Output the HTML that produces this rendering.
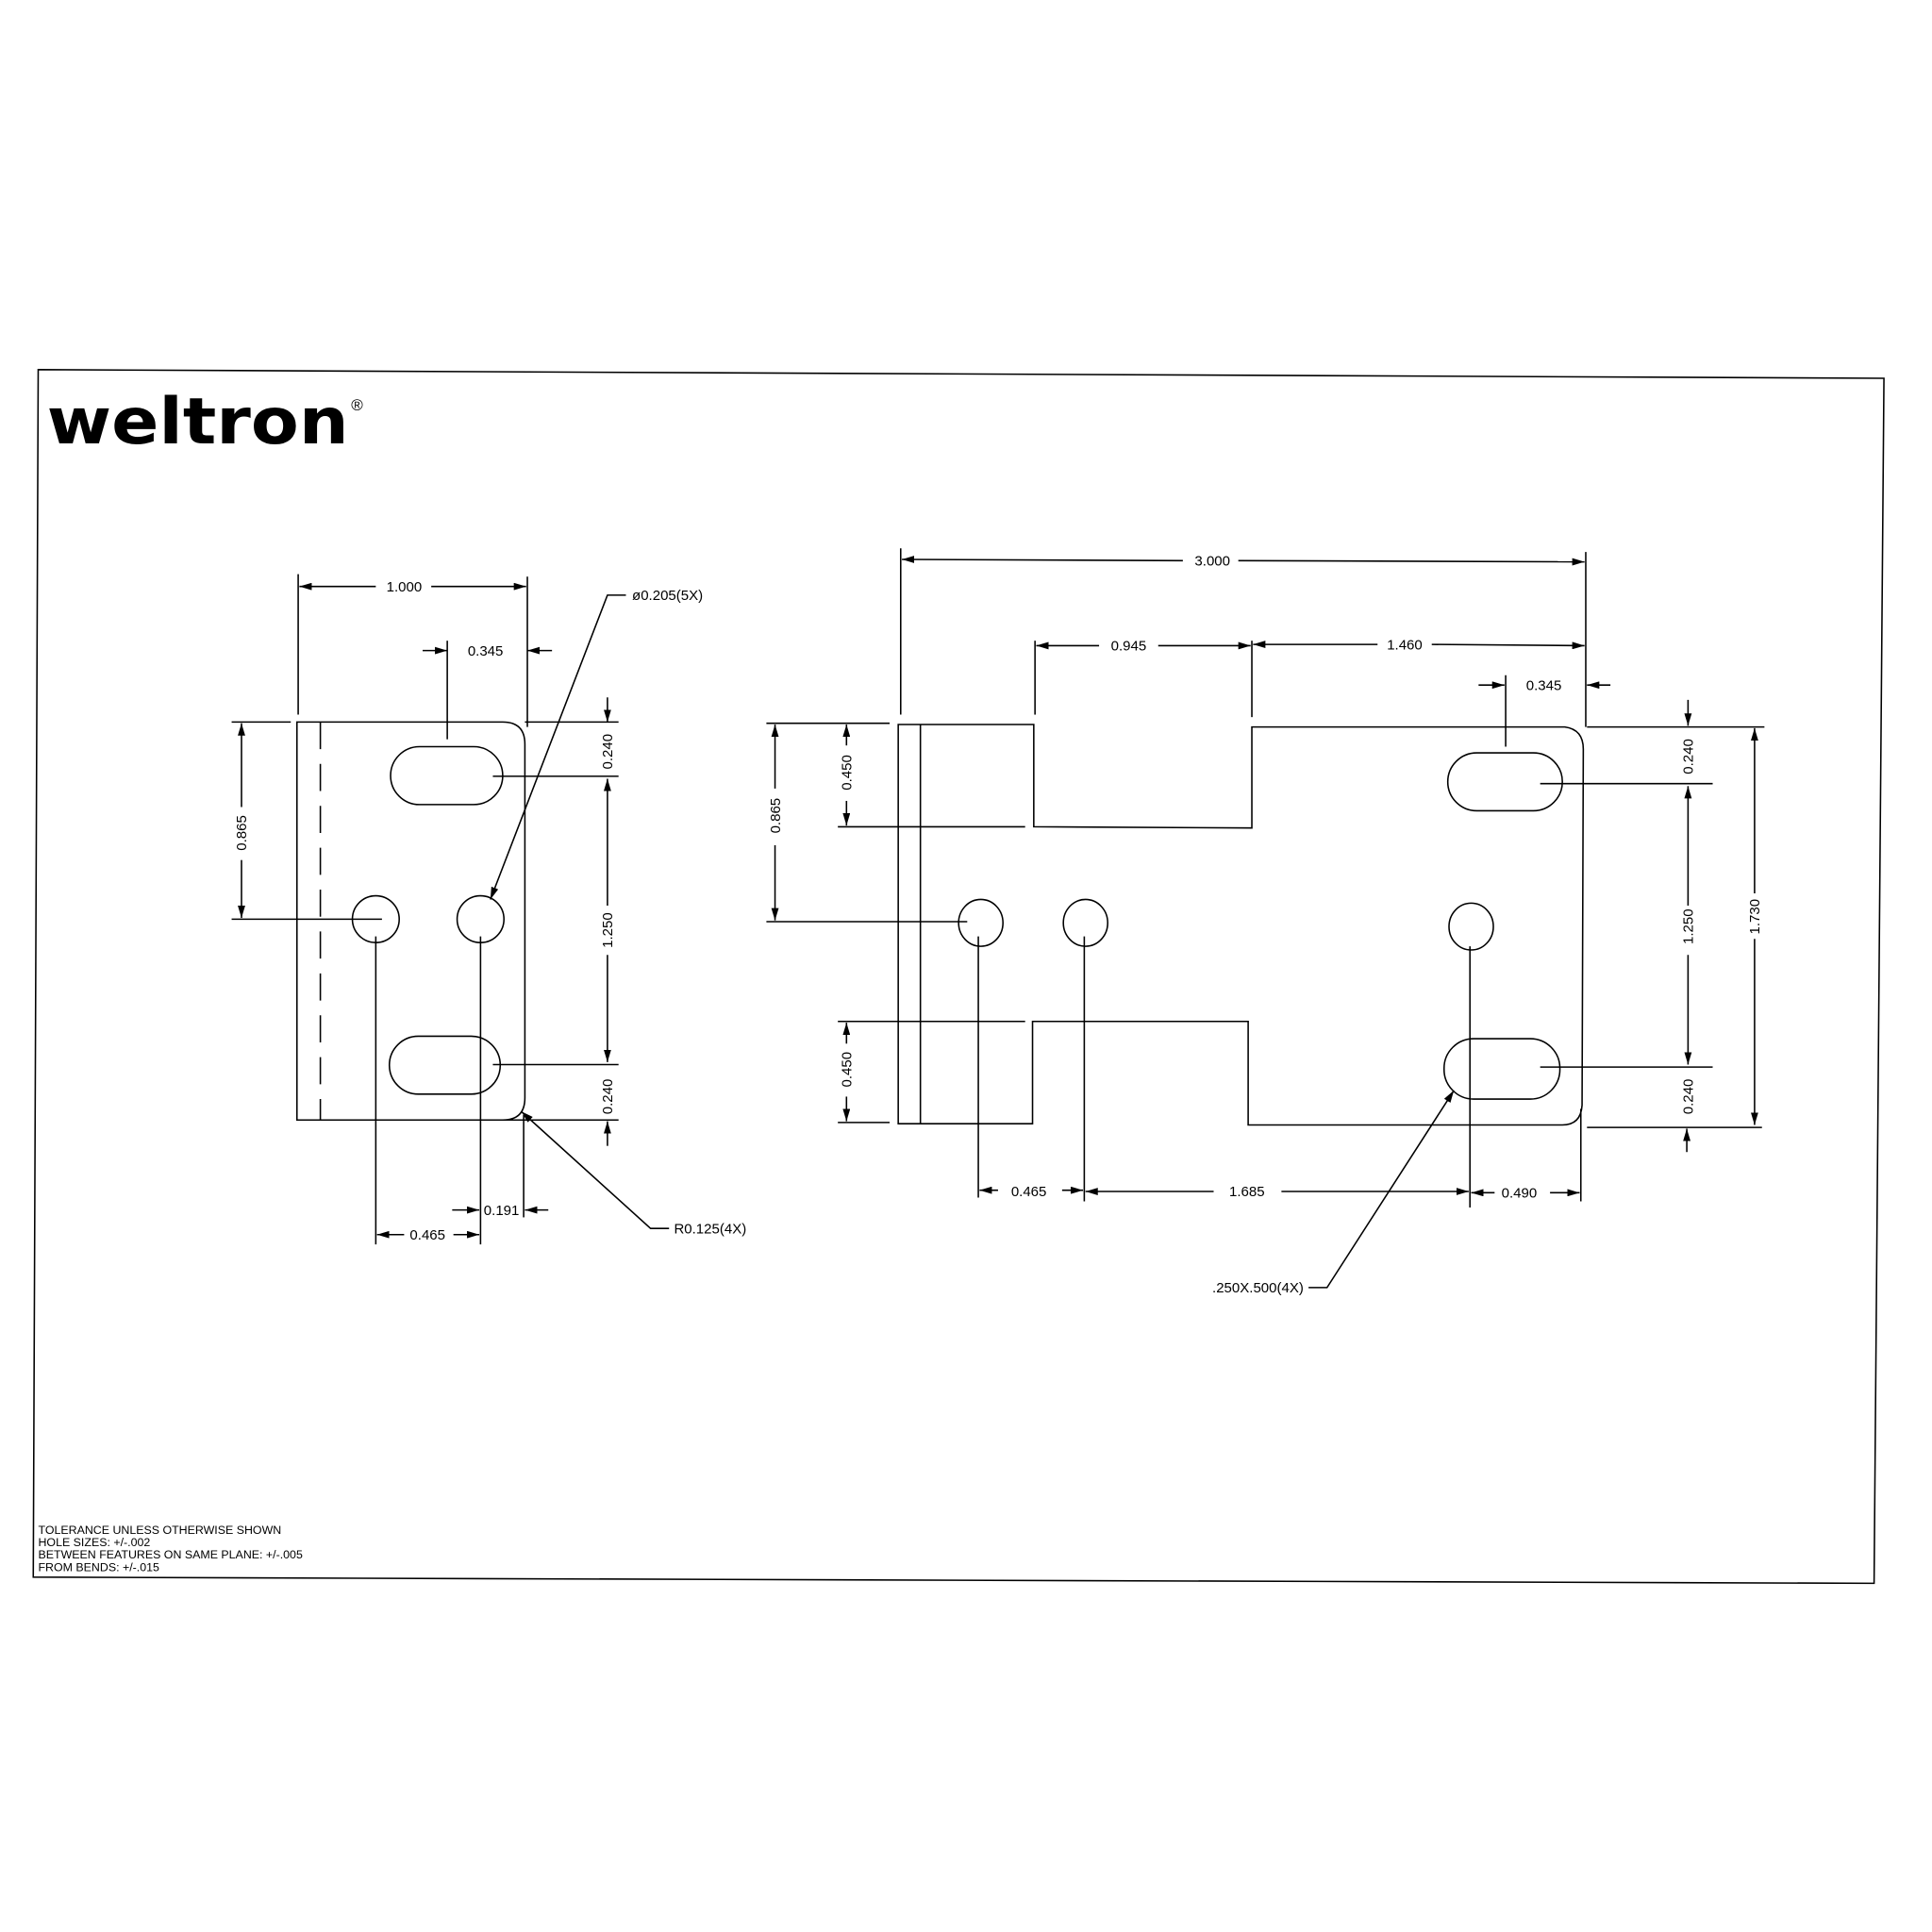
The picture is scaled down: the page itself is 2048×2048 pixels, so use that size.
<!DOCTYPE html>
<html><head><style>html,body{margin:0;padding:0;background:#fff}svg{display:block}</style></head>
<body>
<svg width="2048" height="2048" viewBox="0 0 1568 1568" xmlns="http://www.w3.org/2000/svg">
<defs>
<marker id="a" viewBox="0 0 10 6" refX="10" refY="3" markerWidth="10" markerHeight="6" markerUnits="userSpaceOnUse" orient="auto"><path d="M0,0 L10,3 L0,6 z" fill="#000"/></marker>
</defs>
<rect width="1568" height="1568" fill="#fff"/>
<g fill="none" stroke="#000" stroke-width="1.2">
<polygon points="31,300 1529,307 1521,1285 27,1280"/>
<path d="M241,586 L408,586 Q426,586 426,604 L426,891 Q426,909 408,909 L241,909 Z"/>
<line x1="260" y1="586" x2="260" y2="909" stroke-dasharray="22,12"/>
<rect x="317" y="606" width="91" height="47" rx="23.5"/>
<rect x="316" y="841" width="90" height="47" rx="23.5"/>
<circle cx="305" cy="746" r="19"/><circle cx="390" cy="746" r="19"/>
<line x1="242" y1="466" x2="242" y2="580"/><line x1="428" y1="468" x2="428" y2="590"/>
<line x1="305" y1="476" x2="243" y2="476" marker-end="url(#a)"/><line x1="350" y1="476" x2="427" y2="476" marker-end="url(#a)"/>
<line x1="363" y1="520" x2="363" y2="600"/>
<line x1="343" y1="528" x2="363" y2="528" marker-end="url(#a)"/><line x1="448" y1="528" x2="428" y2="528" marker-end="url(#a)"/>
<line x1="188" y1="586" x2="236" y2="586"/><line x1="188" y1="746" x2="310" y2="746"/>
<line x1="196" y1="655" x2="196" y2="587" marker-end="url(#a)"/><line x1="196" y1="698" x2="196" y2="745" marker-end="url(#a)"/>
<line x1="426" y1="586" x2="502" y2="586"/><line x1="400" y1="630" x2="502" y2="630"/>
<line x1="400" y1="864" x2="502" y2="864"/><line x1="410" y1="909" x2="502" y2="909"/>
<line x1="493" y1="566" x2="493" y2="586" marker-end="url(#a)"/>
<line x1="493" y1="735" x2="493" y2="632" marker-end="url(#a)"/><line x1="493" y1="775" x2="493" y2="862" marker-end="url(#a)"/>
<line x1="493" y1="930" x2="493" y2="910" marker-end="url(#a)"/>
<line x1="305" y1="760" x2="305" y2="1010"/><line x1="390" y1="760" x2="390" y2="1010"/><line x1="425" y1="905" x2="425" y2="988"/>
<line x1="328" y1="1002" x2="306" y2="1002" marker-end="url(#a)"/><line x1="368" y1="1002" x2="389" y2="1002" marker-end="url(#a)"/>
<line x1="367" y1="982" x2="389" y2="982" marker-end="url(#a)"/><line x1="445" y1="982" x2="426" y2="982" marker-end="url(#a)"/>
<polyline points="508,483 493,483 398,730" marker-end="url(#a)"/>
<polyline points="543,997 528,997 423,902" marker-end="url(#a)"/>
<path d="M729,588 L839,588 L839,671 L1016,672 L1016,590 L1270,590 Q1285,592 1285,608 L1284,897 Q1283,913 1268,913 L1013,913 L1013,829 L838,829 L838,912 L729,912 Z"/>
<line x1="747" y1="588" x2="747" y2="912"/>
<rect x="1175" y="611" width="93" height="47" rx="23.5"/>
<rect x="1172" y="843" width="94" height="49" rx="24"/>
<ellipse cx="796" cy="749" rx="18" ry="19"/><ellipse cx="881" cy="749" rx="18" ry="19"/><ellipse cx="1194" cy="752" rx="18" ry="19"/>
<line x1="622" y1="587" x2="722" y2="587"/><line x1="680" y1="671" x2="832" y2="671"/>
<line x1="680" y1="829" x2="832" y2="829"/><line x1="680" y1="911" x2="722" y2="911"/>
<line x1="622" y1="748" x2="785" y2="748"/>
<line x1="629" y1="640" x2="629" y2="588" marker-end="url(#a)"/><line x1="629" y1="686" x2="629" y2="747" marker-end="url(#a)"/>
<line x1="687" y1="605" x2="687" y2="588" marker-end="url(#a)"/><line x1="687" y1="650" x2="687" y2="670" marker-end="url(#a)"/>
<line x1="687" y1="847" x2="687" y2="830" marker-end="url(#a)"/><line x1="687" y1="890" x2="687" y2="910" marker-end="url(#a)"/>
<line x1="731" y1="445" x2="731" y2="580"/><line x1="1287" y1="448" x2="1287" y2="590"/>
<line x1="960" y1="455" x2="732" y2="454" marker-end="url(#a)"/><line x1="1005" y1="455" x2="1286" y2="456" marker-end="url(#a)"/>
<line x1="840" y1="520" x2="840" y2="580"/><line x1="1016" y1="520" x2="1016" y2="582"/>
<line x1="892" y1="524" x2="841" y2="524" marker-end="url(#a)"/><line x1="940" y1="524" x2="1015" y2="524" marker-end="url(#a)"/>
<line x1="1118" y1="523" x2="1017" y2="523" marker-end="url(#a)"/><line x1="1162" y1="523" x2="1286" y2="524" marker-end="url(#a)"/>
<line x1="1222" y1="548" x2="1222" y2="606"/>
<line x1="1200" y1="556" x2="1221" y2="556" marker-end="url(#a)"/><line x1="1307" y1="556" x2="1288" y2="556" marker-end="url(#a)"/>
<line x1="1288" y1="590" x2="1432" y2="590"/><line x1="1250" y1="636" x2="1390" y2="636"/>
<line x1="1250" y1="866" x2="1390" y2="866"/><line x1="1288" y1="915" x2="1430" y2="915"/>
<line x1="1370" y1="568" x2="1370" y2="589" marker-end="url(#a)"/>
<line x1="1370" y1="735" x2="1370" y2="638" marker-end="url(#a)"/><line x1="1370" y1="775" x2="1370" y2="864" marker-end="url(#a)"/>
<line x1="1369" y1="935" x2="1369" y2="916" marker-end="url(#a)"/>
<line x1="1424" y1="725" x2="1424" y2="591" marker-end="url(#a)"/><line x1="1424" y1="762" x2="1424" y2="913" marker-end="url(#a)"/>
<line x1="794" y1="760" x2="794" y2="972"/><line x1="880" y1="760" x2="880" y2="975"/>
<line x1="1193" y1="768" x2="1193" y2="980"/><line x1="1283" y1="900" x2="1283" y2="975"/>
<line x1="810" y1="966" x2="795" y2="966" marker-end="url(#a)"/><line x1="862" y1="966" x2="879" y2="966" marker-end="url(#a)"/>
<line x1="985" y1="967" x2="881" y2="967" marker-end="url(#a)"/><line x1="1040" y1="967" x2="1192" y2="967" marker-end="url(#a)"/>
<line x1="1213" y1="968" x2="1194" y2="968" marker-end="url(#a)"/><line x1="1258" y1="968" x2="1282" y2="968" marker-end="url(#a)"/>
<polyline points="1062,1045 1077,1045 1180,885" marker-end="url(#a)"/>
</g>
<g font-family="Liberation Sans, sans-serif" font-size="11.5" fill="#000">
<text x="328" y="480" text-anchor="middle">1.000</text>
<text x="394" y="532" text-anchor="middle">0.345</text>
<text x="513" y="487">ø0.205(5X)</text>
<text x="347" y="1006" text-anchor="middle">0.465</text>
<text x="407" y="986" text-anchor="middle">0.191</text>
<text x="547" y="1001">R0.125(4X)</text>
<text transform="translate(200,676) rotate(-90)" text-anchor="middle">0.865</text>
<text transform="translate(497,610) rotate(-90)" text-anchor="middle">0.240</text>
<text transform="translate(497,755) rotate(-90)" text-anchor="middle">1.250</text>
<text transform="translate(497,890) rotate(-90)" text-anchor="middle">0.240</text>
<text x="984" y="459" text-anchor="middle">3.000</text>
<text x="916" y="528" text-anchor="middle">0.945</text>
<text x="1140" y="527" text-anchor="middle">1.460</text>
<text x="1253" y="560" text-anchor="middle">0.345</text>
<text transform="translate(633,662) rotate(-90)" text-anchor="middle">0.865</text>
<text transform="translate(691,627) rotate(-90)" text-anchor="middle">0.450</text>
<text transform="translate(691,868) rotate(-90)" text-anchor="middle">0.450</text>
<text transform="translate(1374,614) rotate(-90)" text-anchor="middle">0.240</text>
<text transform="translate(1374,752) rotate(-90)" text-anchor="middle">1.250</text>
<text transform="translate(1374,890) rotate(-90)" text-anchor="middle">0.240</text>
<text transform="translate(1428,744) rotate(-90)" text-anchor="middle">1.730</text>
<text x="835" y="971" text-anchor="middle">0.465</text>
<text x="1012" y="971" text-anchor="middle">1.685</text>
<text x="1233" y="972" text-anchor="middle">0.490</text>
<text x="1058" y="1049" text-anchor="end">.250X.500(4X)</text>
</g>
<g font-family="Liberation Sans, sans-serif" font-size="9.5" fill="#000">
<text x="31" y="1245">TOLERANCE UNLESS OTHERWISE SHOWN</text>
<text x="31" y="1255">HOLE SIZES: +/-.002</text>
<text x="31" y="1265">BETWEEN FEATURES ON SAME PLANE: +/-.005</text>
<text x="31" y="1275">FROM BENDS: +/-.015</text>
</g>
<text x="38" y="360" font-family="DejaVu Sans, sans-serif" font-weight="bold" font-size="52" fill="#000" textLength="245" lengthAdjust="spacingAndGlyphs">weltron</text>
<text x="285" y="333" font-family="Liberation Sans, sans-serif" font-size="13" fill="#000">®</text>
</svg>
</body></html>
